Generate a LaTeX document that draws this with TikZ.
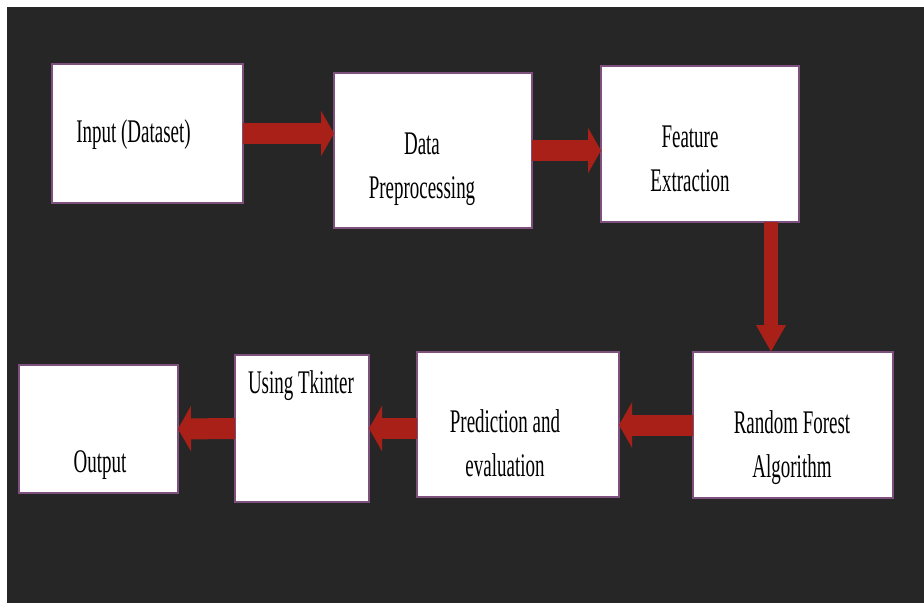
\documentclass[tikz,border=0pt]{standalone}
\usepackage{fontspec}
\setmainfont{Liberation Serif}[FakeStretch=0.575]
\usepackage{tikz}
\usetikzlibrary{arrows.meta}
\definecolor{bgdark}{RGB}{38,38,38}
\definecolor{flowred}{RGB}{168,32,24}
\definecolor{boxline}{RGB}{125,80,125}

\begin{document}
\begin{tikzpicture}[x=1pt, y=-1pt]
	% Define styles
	\tikzset{
		block/.style={rectangle, draw=boxline, line width=1.5pt, fill=white, inner sep=0pt, outer sep=0pt},
		txt/.style={anchor=base, align=center, inner sep=0pt, font=\fontsize{33}{44}\selectfont},
		flow/.style={draw=flowred, line width=21pt, -{Triangle[length=13pt, width=45pt]}},
		flowdown/.style={draw=flowred, line width=14pt, -{Triangle[length=27pt, width=28pt]}}
	}
	% Background
	\fill[white] (0,0) rectangle (924,603);
	\fill[bgdark] (7,7) rectangle (924,603);
	% Nodes
	\node[block, minimum width=191pt, minimum height=139pt] (inp) at (147.5,133.5) {};
	\node[block, minimum width=198pt, minimum height=155pt] (prep) at (433,150.5) {};
	\node[block, minimum width=198pt, minimum height=156pt] (feat) at (700,144) {};
	\node[block, minimum width=200pt, minimum height=146pt] (rf) at (793,425) {};
	\node[block, minimum width=202pt, minimum height=145pt] (pred) at (518,424.5) {};
	\node[block, minimum width=134pt, minimum height=147pt] (tk) at (302,428.5) {};
	\node[block, minimum width=159pt, minimum height=128pt] (out) at (98.5,429) {};
	
	\node[txt] (inp-t) at (133.5,142) {Input (Dataset)};
	\node[txt] (prep-t) at (422,198) {Data\\Preprocessing};
	\node[txt] (feat-t) at (690,191) {Feature\\Extraction};
	\node[txt] (rf-t) at (792,477) {Random Forest\\Algorithm};
	\node[txt] (pred-t) at (505,476) {Prediction and\\evaluation};
	\node[txt] (tk-t) at (301,393) {Using Tkinter};
	\node[txt] (out-t) at (100,472) {Output};
	
	% Arrows
	\draw[flow] (inp.east) -- (inp.east -| prep.west);
	\draw[flow] (prep.east) -- (prep.east -| feat.west);
	\draw[flowdown] ([xshift=-28pt]feat.south east) -- ([xshift=-28pt]feat.south east |- rf.north);
	\draw[flow] (rf.west) -- (rf.west -| pred.east);
	\draw[flow] (tk.east -| pred.west) -- (tk.east);
	\draw[flow] (tk.west) -- (out.east);
\end{tikzpicture}
\end{document}
